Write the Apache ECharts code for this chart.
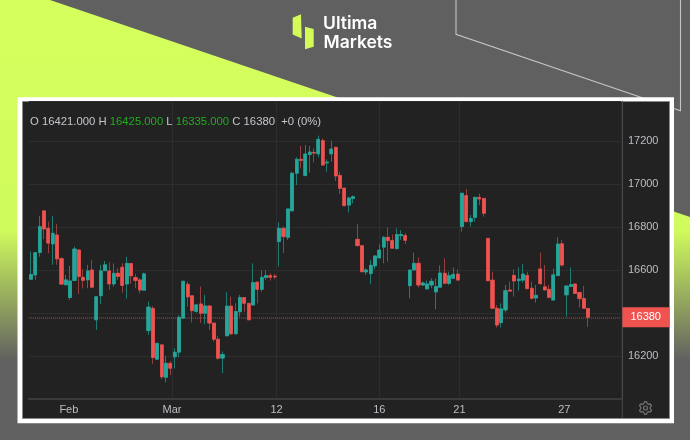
<!DOCTYPE html>
<html><head><meta charset="utf-8">
<style>html,body{margin:0;padding:0;background:#606060}#c{width:690px;height:440px}</style>
<script src="https://cdn.jsdelivr.net/npm/echarts@6/dist/echarts.min.js"></script>
</head><body><div id="c"></div>
<script>
const opens = [16557,16577,16681,16875,16794,16721,16763,16653,16531,16472,16551,16693,16566,16554,16600,16368,16480,16597,16596,16535,16585,16613,16535,16630,16565,16554,16506,
16318,16421,16185,16252,16101,16166,16196,16218,16376,16534,16480,16407,16442,16399,16433,16353,16278,16190,16294,16432,16303,16406,16472,16445,16437,16544,16510,16565,16574,16571,
16732,16794,16752,16875,17050,17115,17039,17137,17147,17140,17202,17098,17140,17171,17040,16981,16902,16933,
16743,16713,16591,16583,16619,16656,16706,16752,16737,16699,16760,16761,
16527,16600,16631,16530,16512,16530,16498,16520,16585,16538,16561,16581,
16802,16946,16825,16845,16938,16933,
16747,16553,16422,16355,16414,16507,16575,16550,16553,16575,16515,16470,16605,16522,16510,16460,16574,16722,
16484,16524,16535,16496,16467,16421];
const closes = [16579,16681,16802,16791,16725,16771,16652,16534,16554,16549,16698,16570,16552,16596,16520,16476,16596,16624,16535,16585,16570,16528,16631,16573,16551,16507,16582,
16428,16193,16259,16103,16166,16143,16218,16380,16548,16475,16411,16438,16399,16433,16353,16278,16190,16207,16432,16303,16407,16472,16445,16368,16541,16510,16566,16574,16566,16568,
16794,16755,16884,17050,17115,17110,17140,17149,17144,17208,17088,17102,17163,17037,16980,16899,16935,16941,
16713,16592,16600,16622,16665,16693,16752,16737,16701,16765,16765,16738,
16600,16631,16530,16540,16535,16548,16523,16586,16538,16574,16580,16553,
16957,16825,16840,16938,16930,16864,
16550,16422,16344,16419,16504,16502,16549,16558,16581,16513,16468,16482,16536,16507,16473,16578,16721,16623,
16526,16532,16491,16467,16422,16380];
const lows = [16554,16554,16662,16743,16678,16624,16624,16534,16531,16461,16551,16489,16515,16515,16515,16321,16442,16597,16507,16523,16554,16495,16467,16535,16515,16492,16506,
16298,16163,16185,16092,16077,16111,16142,16194,16376,16430,16356,16402,16353,16348,16321,16267,16182,16120,16294,16298,16303,16383,16406,16368,16437,16445,16499,16554,16551,16557,
16616,16678,16740,16875,16995,17073,17039,17053,17101,17124,17088,17057,17104,17014,16954,16898,16868,16910,
16713,16592,16577,16534,16603,16656,16631,16639,16701,16699,16740,16721,
16468,16600,16518,16526,16512,16515,16417,16520,16538,16530,16561,16553,
16778,16825,16802,16825,16902,16848,
16550,16422,16332,16333,16402,16502,16476,16504,16541,16513,16464,16448,16536,16507,16468,16460,16574,16615,
16383,16524,16491,16426,16422,16335];
const highs = [16686,16681,16852,16875,16825,16852,16814,16659,16577,16619,16709,16697,16604,16624,16647,16476,16624,16642,16636,16631,16608,16631,16662,16630,16582,16562,16588,
16453,16433,16259,16252,16201,16177,16236,16391,16548,16546,16480,16442,16523,16484,16433,16353,16294,16221,16497,16476,16445,16484,16472,16445,16631,16544,16600,16600,16585,16582,
16822,16802,16884,17057,17124,17177,17181,17177,17166,17225,17212,17115,17202,17171,17057,16981,16941,16947,
16814,16713,16608,16647,16670,16721,16758,16799,16766,16794,16786,16771,
16600,16681,16659,16546,16551,16561,16561,16622,16654,16592,16612,16603,
16960,16977,16856,16941,16956,16933,
16747,16592,16437,16445,16530,16546,16603,16612,16628,16592,16546,16530,16681,16623,16530,16606,16752,16739,
16526,16612,16535,16496,16526,16425];
const slotCount = 136;
const categories = Array.from({length: slotCount}, (_, i) => String(i));
const timeTickPositions = [9.2, 32.9, 56.9, 80.5, 98.9, 123];
const timeTickLabels = ['Feb', 'Mar', '12', '16', '21', '27'];
const priceInterval = 200;
const lastPrice = 16380;
const headerOpen = '16421.000', headerHigh = '16425.000', headerLow = '16335.000', headerClose = '16380', headerChange = '+0 (0%)';

const TEAL = '#26a69a', RED = '#ef5350', TEAL_W = '#1f7a72', RED_W = '#943f3e';
const TXT = '#bcbec4', GRID = '#2d2d2d', FONT = '"Liberation Sans", Arial, sans-serif';

const wickData = opens.map((o, i) => [o, closes[i], lows[i], highs[i]]);
const bodyData = opens.map((o, i) => {
  const c = closes[i];
  return [o, c, Math.min(o, c), Math.max(o, c)];
});

const gearPts = [];
for (let i = 0; i < 24; i++) {
  const a = (i + 0.5) / 24 * 2 * Math.PI - Math.PI / 2 - Math.PI / 24 * 2, r = (i % 4 < 2) ? 6.4 : 4.7;
  gearPts.push([645.5 + r * Math.cos(a), 408 + r * Math.sin(a)]);
}

const chart = echarts.init(document.getElementById('c'), null, {renderer: 'canvas'});
chart.setOption({
  animation: false,
  backgroundColor: '#606060',
  title: {
    left: 30, top: 116, padding: 0,
    text: `{g|O ${headerOpen} H }{u|${headerHigh}}{g| L }{u|${headerLow}}{g| C ${headerClose}  ${headerChange}}`,
    textStyle: {
      fontFamily: FONT, fontSize: 11.3, fontWeight: 'normal',
      rich: {
        g: {color: '#c4c6cc', fontFamily: FONT, fontSize: 11.3},
        u: {color: '#22aa22', fontFamily: FONT, fontSize: 11.3}
      }
    }
  },
  grid: {left: 28.8, top: 101.3, width: 592.1, bottom: 41, containLabel: false},
  xAxis: [
    {type: 'category', data: categories, boundaryGap: true,
     axisLine: {show: true, lineStyle: {color: '#3a3a3a', width: 2}},
     axisTick: {show: false}, axisLabel: {show: false}, splitLine: {show: false}},
    {type: 'value', position: 'bottom', min: 0, max: slotCount,
     axisLine: {show: false},
     axisTick: {show: false, customValues: timeTickPositions},
     axisLabel: {show: true, customValues: timeTickPositions, margin: 5, color: TXT, fontSize: 11, fontFamily: FONT,
       formatter: v => timeTickLabels[timeTickPositions.indexOf(v)]},
     splitLine: {show: true, showMinLine: false, showMaxLine: false, lineStyle: {color: GRID, width: 1}}}
  ],
  yAxis: {
    type: 'value', position: 'right', offset: 1, min: 16000, max: 17384.7, interval: priceInterval, scale: true,
    axisLine: {show: true, onZero: false, lineStyle: {color: '#4a4a4a', width: 1}},
    axisTick: {show: false},
    axisLabel: {margin: 6, color: TXT, fontSize: 11, fontFamily: FONT, showMinLabel: false, showMaxLabel: false,
      formatter: v => String(v)},
    splitLine: {show: true, lineStyle: {color: GRID, width: 1}}
  },
  series: [
    {type: 'candlestick', name: 'wick', data: wickData, barWidth: 3,
     itemStyle: {color: TEAL_W, color0: RED_W, borderColor: TEAL_W, borderColor0: RED_W, borderWidth: 1}},
    {type: 'candlestick', name: 'body', data: bodyData, barWidth: 3.6,
     itemStyle: {color: TEAL, color0: RED, borderColor: TEAL, borderColor0: RED, borderWidth: 0.6},
     markLine: {
       silent: true, symbol: 'none', animation: false,
       lineStyle: {color: 'rgba(239,83,80,0.4)', type: [1, 1], width: 2},
       label: {show: true, position: 'end', distance: 1.5, formatter: () => String(lastPrice),
         backgroundColor: RED, color: '#ffffff', fontSize: 11, fontFamily: FONT,
         align: 'left', verticalAlign: 'middle', lineHeight: 20, padding: [0, 8, 0, 8]},
       data: [{yAxis: lastPrice}]
     }}
  ],
  graphic: {elements: [
    {type: 'polygon', z: -20, silent: true,
     shape: {points: [[0,0],[50,0],[690,217],[690,440],[0,440]]},
     style: {fill: {type: 'linear', x: 0, y: 0, x2: 0, y2: 1, colorStops: [
       {offset: 0, color: '#d4ff5c'}, {offset: 0.523, color: '#d0fb5c'}, {offset: 0.82, color: '#606060'}, {offset: 1, color: '#606060'}]}}},
    {type: 'polyline', z: -19, silent: true,
     shape: {points: [[456,0],[456,34.3],[680.5,110.7],[680.5,0]]},
     style: {stroke: '#c4c4c4', lineWidth: 1.1, fill: null}},
    {type: 'rect', z: -18, silent: true, shape: {x: 17.5, y: 97.3, width: 656.5, height: 326},
     style: {fill: '#ffffff'}},
    {type: 'rect', z: -17, silent: true, shape: {x: 22.5, y: 101.5, width: 647, height: 317},
     style: {fill: '#222222', stroke: '#8a8a8a', lineWidth: 1}},
    {type: 'line', z: -16, silent: true, shape: {x1: 622.3, y1: 101.5, x2: 622.3, y2: 418},
     style: {stroke: '#4a4a4a', lineWidth: 1}},
    {type: 'polygon', z: 5, silent: true, shape: {points: [[292.7,17.7],[301,14.3],[301.7,38.5],[292.7,34.5]]}, style: {fill: '#d2fb5a'}},
    {type: 'polygon', z: 5, silent: true, shape: {points: [[305,26.7],[313.7,29],[313.7,46.7],[305,49.3]]}, style: {fill: '#d2fb5a'}},
    {type: 'text', z: 5, silent: true, x: 323, y: 24,
     style: {text: 'Ultima', fill: '#ffffff', font: '600 17.5px Inter, Roboto, sans-serif', verticalAlign: 'middle'}},
    {type: 'text', z: 5, silent: true, x: 323.5, y: 42.5,
     style: {text: 'Markets', fill: '#ffffff', font: '600 17.5px Inter, Roboto, sans-serif', verticalAlign: 'middle'}},
    {type: 'polygon', z: 5, silent: true, shape: {points: gearPts}, style: {fill: null, stroke: '#6f6f6f', lineWidth: 1.3}},
    {type: 'circle', z: 5, silent: true, shape: {cx: 645.5, cy: 408, r: 2}, style: {fill: null, stroke: '#6f6f6f', lineWidth: 1.2}}
  ]}
});
</script></body></html>
